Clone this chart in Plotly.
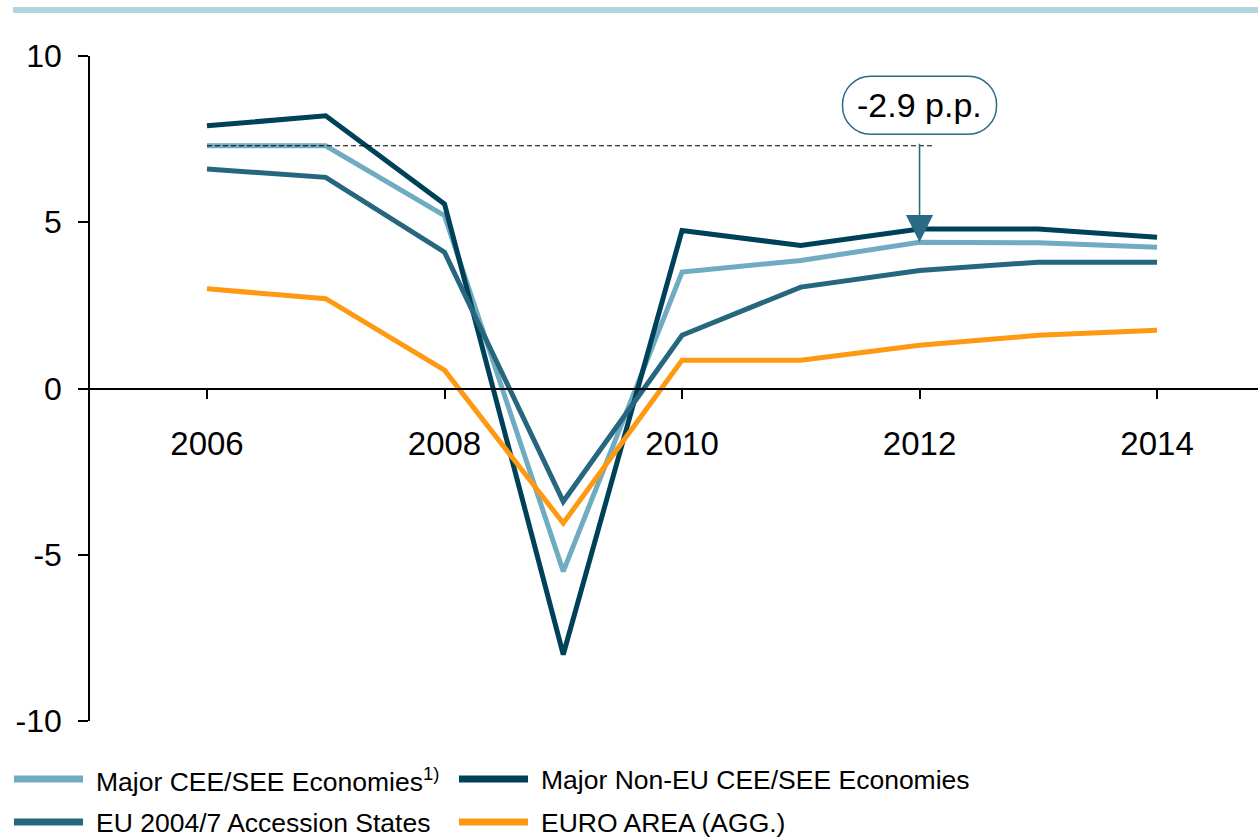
import plotly.graph_objects as go

# Real GDP growth, % y/y
years = [2006, 2007, 2008, 2009, 2010, 2011, 2012, 2013, 2014]
major_cee_see = [7.3, 7.3, 5.2, -5.5, 3.5, 3.85, 4.4, 4.38, 4.25]
major_non_eu = [7.9, 8.2, 5.55, -8.0, 4.75, 4.3, 4.8, 4.8, 4.55]
eu_accession = [6.6, 6.35, 4.1, -3.4, 1.6, 3.05, 3.55, 3.8, 3.8]
euro_area = [3.0, 2.7, 0.55, -4.05, 0.85, 0.85, 1.3, 1.6, 1.75]

series_names = [
    "Major CEE/SEE Economies<sup>1)</sup>",
    "Major Non-EU CEE/SEE Economies",
    "EU 2004/7 Accession States",
    "EURO AREA (AGG.)",
]
series_values = [major_cee_see, major_non_eu, eu_accession, euro_area]
series_colors = ["#6fabc1", "#00415a", "#26667f", "#ff9912"]

x_ticks = [2006, 2008, 2010, 2012, 2014]
y_ticks = [-10, -5, 0, 5, 10]
y_tick_text = ["-10", "-5", "0", "5", "10"]

# gap highlighted by the callout: 2006 vs 2012 growth of the major CEE/SEE group
gap_start_year, gap_end_year = 2006, 2012
gap = major_cee_see[years.index(gap_end_year)] - major_cee_see[years.index(gap_start_year)]
gap_label = f"{gap:.1f} p.p."

W, H = 1258, 837
ML, MR, MT, MB = 90, 0, 56, 116
PW, PH = W - ML - MR, H - MT - MB

FONT = "Arial, Liberation Sans, sans-serif"
ACCENT = "#2a6a85"


def px_x(px):
    return (px - ML) / PW


def px_y(py):
    return (H - MB - py) / PH


fig = go.Figure()
for name, vals, col in zip(series_names, series_values, series_colors):
    fig.add_trace(go.Scatter(
        x=years, y=vals, mode="lines", name=name,
        line=dict(color=col, width=5),
        showlegend=False, hoverinfo="skip",
    ))

shapes = []
annotations = []

# thin rule along the top of the page
shapes.append(dict(type="line", xref="paper", yref="paper",
                   x0=px_x(13), x1=1.0, y0=px_y(10), y1=px_y(10),
                   line=dict(color="#b3d5df", width=6)))

# dashed reference level from the 2006 value
y_ref = major_cee_see[years.index(gap_start_year)]
shapes.append(dict(type="line", xref="x", yref="y",
                   x0=gap_start_year, x1=gap_end_year + 0.12, y0=y_ref, y1=y_ref,
                   line=dict(color="black", width=1, dash="5px,3px")))

# rounded (pill-shaped) callout box with the gap label
label_y = 8.52
bw, bh, r = 77, 29, 28
k = r * 0.5523
box_path = (
    f"M {-bw + r},{-bh} L {bw - r},{-bh} "
    f"C {bw - r + k},{-bh} {bw},{-bh + r - k} {bw},{-bh + r} "
    f"L {bw},{bh - r} "
    f"C {bw},{bh - r + k} {bw - r + k},{bh} {bw - r},{bh} "
    f"L {-bw + r},{bh} "
    f"C {-bw + r - k},{bh} {-bw},{bh - r + k} {-bw},{bh - r} "
    f"L {-bw},{-bh + r} "
    f"C {-bw},{-bh + r - k} {-bw + r - k},{-bh} {-bw + r},{-bh} Z"
)
shapes.append(dict(type="path", xref="x", yref="y",
                   xsizemode="pixel", ysizemode="pixel",
                   xanchor=gap_end_year, yanchor=label_y, path=box_path,
                   line=dict(color=ACCENT, width=1.5), fillcolor="white", layer="below"))

# label with an arrow from the reference level down to the 2012 value
annotations.append(dict(
    x=gap_end_year, y=major_cee_see[years.index(gap_end_year)], xref="x", yref="y",
    ax=gap_end_year, ay=label_y, axref="x", ayref="y",
    text=gap_label, font=dict(family=FONT, size=34, color="black"),
    showarrow=True, arrowhead=2, arrowsize=3.4, arrowwidth=1.6,
    arrowcolor=ACCENT, standoff=0, startstandoff=18,
))

# legend: two columns, two rows
legend_cols = [(14, 83, 94), (459, 528, 539)]
legend_rows = [779, 822]
for i, (name, col) in enumerate(zip(series_names, series_colors)):
    row, c = divmod(i, 2)
    x0, x1, xt = legend_cols[c]
    yy = legend_rows[row]
    shapes.append(dict(type="line", xref="paper", yref="paper",
                       x0=px_x(x0), x1=px_x(x1), y0=px_y(yy), y1=px_y(yy),
                       line=dict(color=col, width=7)))
    annotations.append(dict(x=px_x(xt), y=px_y(yy + 1), xref="paper", yref="paper",
                            text=name, showarrow=False, xanchor="left", yanchor="middle",
                            font=dict(family=FONT, size=26.5, color="black")))

fig.update_layout(
    width=W, height=H, autosize=False,
    margin=dict(l=ML, r=MR, t=MT, b=MB, pad=0),
    paper_bgcolor="white", plot_bgcolor="white",
    font=dict(family=FONT, color="black"),
    shapes=shapes, annotations=annotations,
    xaxis=dict(
        range=[2005.015, 2014.85], tickvals=x_ticks, ticktext=[str(v) for v in x_ticks],
        anchor="free", position=0.5,
        showline=True, linecolor="black", linewidth=1.5,
        ticks="outside", ticklen=10, tickwidth=1.5, tickcolor="black",
        tickfont=dict(size=33, family=FONT), ticklabelstandoff=16,
        showgrid=False, zeroline=False, fixedrange=True,
    ),
    yaxis=dict(
        range=[-10, 10], tickvals=y_ticks, ticktext=y_tick_text,
        showline=True, linecolor="black", linewidth=1.5,
        ticks="outside", ticklen=10, tickwidth=1.5, tickcolor="black",
        tickfont=dict(size=32, family=FONT), ticklabelstandoff=10,
        showgrid=False, zeroline=False, fixedrange=True,
    ),
)

fig.write_html("out.html", config={"displayModeBar": False})
